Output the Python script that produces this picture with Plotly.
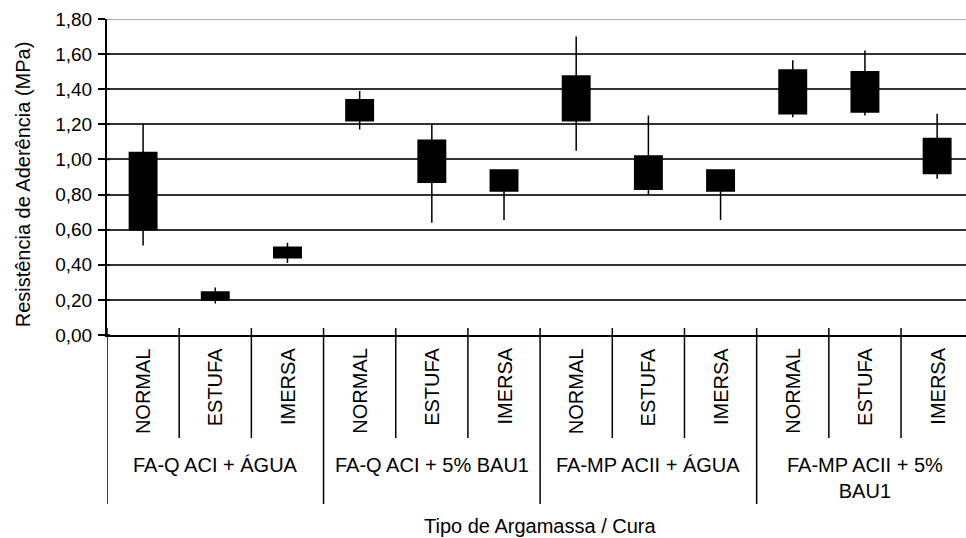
import plotly.graph_objects as go

# Curing condition for each of the 12 specimens, grouped by mortar type
curas = ["NORMAL", "ESTUFA", "IMERSA"] * 4
grupos = ["FA-Q ACI + ÁGUA", "FA-Q ACI + 5% BAU1",
          "FA-MP ACII + ÁGUA", "FA-MP ACII + 5%<br>BAU1"]

# Bond strength (MPa): extremes and box limits per specimen
minimo = [0.51, 0.18, 0.41, 1.17, 0.64, 0.655, 1.05, 0.80, 0.655, 1.24, 1.25, 0.89]
caixa_inf = [0.60, 0.20, 0.44, 1.22, 0.87, 0.82, 1.22, 0.83, 0.82, 1.26, 1.27, 0.92]
caixa_sup = [1.04, 0.245, 0.50, 1.34, 1.11, 0.94, 1.475, 1.02, 0.94, 1.51, 1.50, 1.12]
maximo = [1.20, 0.27, 0.525, 1.39, 1.20, 0.94, 1.70, 1.25, 0.94, 1.565, 1.62, 1.26]

y_ticks = [0.0, 0.2, 0.4, 0.6, 0.8, 1.0, 1.2, 1.4, 1.6, 1.8]

FONT = "Liberation Sans, Arial, sans-serif"
n = len(curas)
pos = list(range(n))

fig = go.Figure()
fig.add_trace(go.Box(
    x=pos,
    q1=caixa_inf,
    median=caixa_sup,
    q3=caixa_sup,
    lowerfence=minimo,
    upperfence=maximo,
    width=0.38,
    whiskerwidth=0,
    fillcolor="black",
    line=dict(color="black", width=1.5),
    boxpoints=False,
    showlegend=False,
))

# plot area geometry in pixels (for paper-coordinate helpers)
H_PLOT = 538 - 19 - 203


def py(px):
    """pixel row -> paper y"""
    return (335 - px) / H_PLOT


shapes = []
# light top border at the upper end of the scale
shapes.append(dict(type="line", xref="paper", yref="y", x0=0, x1=1,
                   y0=y_ticks[-1], y1=y_ticks[-1],
                   line=dict(color="#b0b0b0", width=2), layer="above"))
# category separators below the axis; group separators are longer
for i in range(n):
    bottom = 504 if i % 3 == 0 else 438
    shapes.append(dict(type="line", xref="x", yref="paper",
                       x0=i - 0.5, x1=i - 0.5, y0=py(328), y1=py(bottom),
                       line=dict(color="black", width=1.5)))
# short inner tick stubs on the value axis
for v in y_ticks[:-1]:
    shapes.append(dict(type="line", xref="paper", yref="y",
                       x0=0, x1=3 / 859, y0=v, y1=v,
                       line=dict(color="black", width=1.5)))

annotations = []
for i, c in enumerate(curas):
    annotations.append(dict(x=i, y=py(346), xref="x", yref="paper",
                            text=c, textangle=-90, showarrow=False,
                            xanchor="center", yanchor="top",
                            font=dict(family=FONT, size=20, color="black")))
for g, name in enumerate(grupos):
    annotations.append(dict(x=3 * g + 1, y=py(452), xref="x", yref="paper",
                            text=name, showarrow=False,
                            xanchor="center", yanchor="top",
                            font=dict(family=FONT, size=20, color="black")))
annotations.append(dict(x=(n - 1) / 2, y=py(526), xref="x", yref="paper",
                        text="Tipo de Argamassa / Cura", showarrow=False,
                        xanchor="center", yanchor="middle",
                        font=dict(family=FONT, size=20, color="black")))
annotations.append(dict(x=-0.098, y=py(184.5), xref="paper", yref="paper",
                        text="Resistência de Aderência (MPa)", textangle=-90,
                        showarrow=False, xanchor="center", yanchor="middle",
                        font=dict(family=FONT, size=20, color="black")))

fig.update_layout(
    width=966, height=538,
    margin=dict(l=107, r=0, t=19, b=203),
    plot_bgcolor="white", paper_bgcolor="white",
    separators=",.",
    showlegend=False,
    shapes=shapes,
    annotations=annotations,
    xaxis=dict(range=[-0.5, 11.4], showgrid=False, zeroline=False,
               showticklabels=False, ticks="", showline=True,
               linecolor="black", linewidth=2, fixedrange=True),
    yaxis=dict(range=[0, 1.8], tickvals=y_ticks, tickformat=".2f",
               showgrid=True, gridcolor="#333333", gridwidth=1.5,
               zeroline=False, showline=True, linecolor="black", linewidth=2,
               ticks="outside", ticklen=7, tickwidth=1.5, tickcolor="black",
               ticklabelstandoff=2,
               tickfont=dict(family=FONT, size=19, color="black"),
               fixedrange=True),
)

fig.write_html("out.html")
